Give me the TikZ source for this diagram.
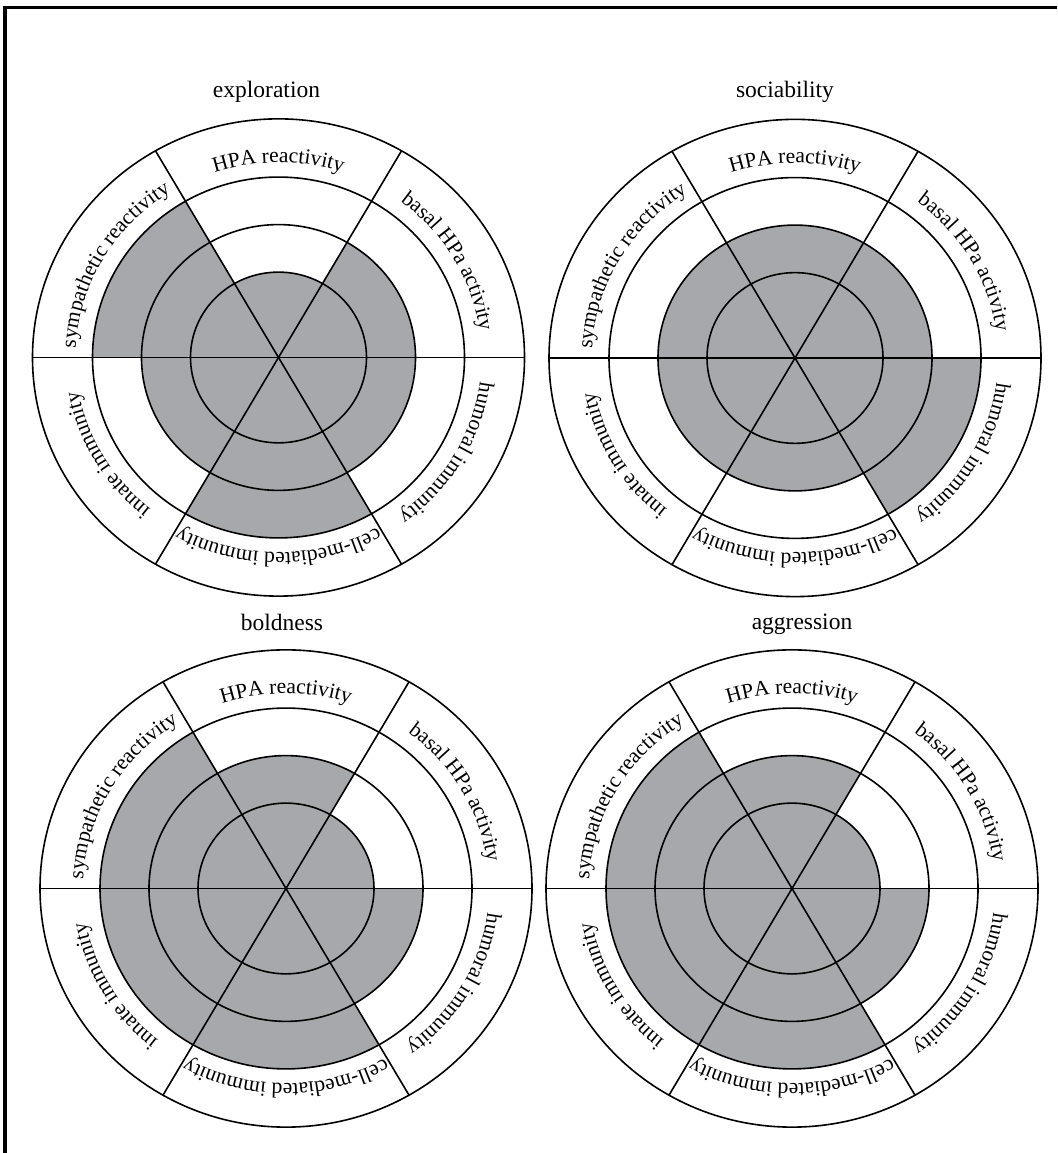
\documentclass[tikz,border=0pt]{standalone}
\usepackage{fontspec}
\setmainfont{Liberation Serif}
\usetikzlibrary{decorations.text}
\definecolor{wedge}{RGB}{167,168,172}
\newcommand\lblfont{\fontsize{21.5}{25}\selectfont}
\newcommand\ttlfont{\fontsize{23.5}{28}\selectfont}
\tikzset{
  wl/.style={line width=1.6pt, black},
  wedgefill/.style={fill=wedge},
  framel/.style={line width=3.2pt, black},
  ttl/.style={font=\ttlfont, anchor=base, inner sep=0pt}
}
% #1 cx, #2 cy, radii for sectors: #3 HPA, #4 basal, #5 humoral, #6 cell, #7 innate, #8 sympathetic
\newcommand\wheel[8]{%
  \begin{scope}[shift={(#1,#2)}, yscale=0.97]
    \foreach \a/\r in {60/#3, 0/#4, -60/#5, -120/#6, 180/#7, 120/#8}
      \fill[wedgefill] (0,0) -- (\a:\r) arc[start angle=\a, end angle=\a+60, radius=\r] -- cycle;
    \draw[wl] (0,0) circle[radius=246] (0,0) circle[radius=186] (0,0) circle[radius=137] (0,0) circle[radius=88];
    \draw[wl] (180:246) -- (0:246);
    \draw[wl] (240:246) -- (60:246);
    \draw[wl] (120:246) -- (300:246);
  \end{scope}
  \arclabel{#1}{#2}{90}{HPA reactivity}
  \arclabel{#1}{#2}{30}{basal HPa activity}
  \arclabel{#1}{#2}{-30}{humoral immunity}
  \arclabel{#1}{#2}{-90}{cell-mediated immunity}
  \arclabel{#1}{#2}{210}{innate immunity}
  \arclabel{#1}{#2}{150}{sympathetic reactivity}
}
\newcommand\arclabel[4]{%
  \path[decorate, decoration={text along path, text align=center, text={|\lblfont|#4}}]
    (#1,#2) ++(#3+50:203 and 195) arc[start angle=#3+50, end angle=#3-50, x radius=203, y radius=195];
}
\begin{document}
\begin{tikzpicture}[x=1pt, y=1pt]
  \useasboundingbox (0,0) rectangle (1057,1153);
  \draw[framel] (5,0) -- (5,1145.5) -- (1057,1145.5);
  % exploration
  \wheel{278.5}{795.5}{88}{137}{137}{186}{137}{186}
  % sociability
  \wheel{795}{795}{137}{137}{186}{137}{137}{137}
  % boldness
  \wheel{286}{264.5}{137}{88}{137}{186}{186}{186}
  % aggression
  \wheel{792}{264.5}{137}{88}{137}{186}{186}{186}
  \node[ttl] (t1) at (266.5,1055) {exploration};
  \node[ttl] (t2) at (785,1055) {sociability};
  \node[ttl] (t3) at (282,522) {boldness};
  \node[ttl] (t4) at (802,523) {aggression};
\end{tikzpicture}
\end{document}
